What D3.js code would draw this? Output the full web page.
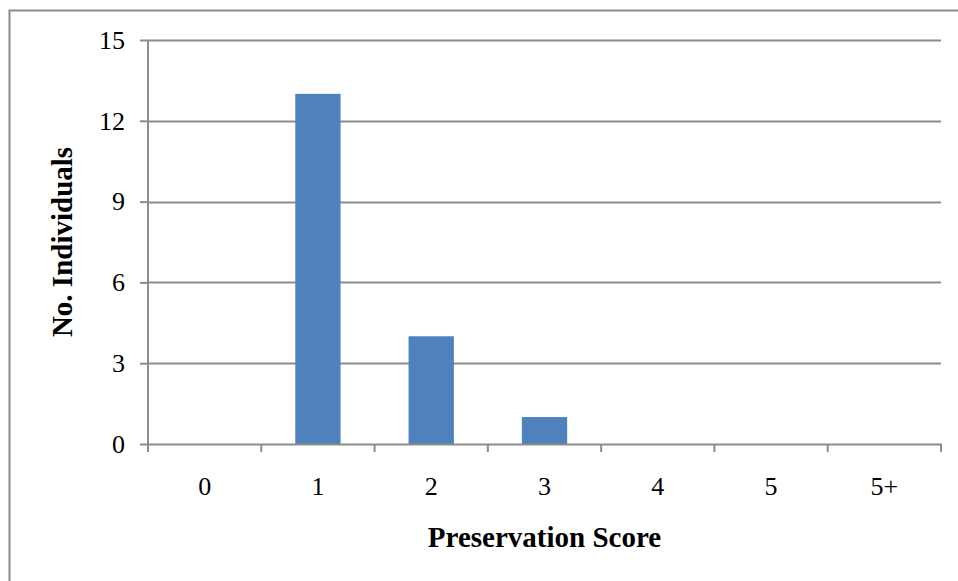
<!DOCTYPE html>
<html>
<head>
<meta charset="utf-8">
<script src="https://cdn.jsdelivr.net/npm/d3@7"></script>
<style>
  html, body { margin: 0; padding: 0; background: #fff; }
  svg { display: block; }
  text { font-family: "Liberation Serif", "Times New Roman", serif; fill: #000; }
</style>
</head>
<body>
<svg id="chart" width="958" height="581"></svg>
<script>
// Preservation score categories and counts of individuals
const categories = ["0", "1", "2", "3", "4", "5", "5+"];
const counts = [0, 13, 4, 1, 0, 0, 0];
const yTicks = [0, 3, 6, 9, 12, 15];

const svg = d3.select("#chart");
const plot = { left: 148, right: 941, top: 40, bottom: 444 };
const gridColor = "#8c8c8c";
const tickFont = 26;
const titleFont = 29;

// Outer chart frame (continues past right and bottom edges)
svg.append("rect")
  .attr("x", 9.5).attr("y", 10.5)
  .attr("width", 1000).attr("height", 700)
  .attr("fill", "none").attr("stroke", gridColor).attr("stroke-width", 2);

const xOuter = d3.scaleBand().domain(categories).range([plot.left, plot.right]);
const y = d3.scaleLinear().domain([0, 15]).range([plot.bottom, plot.top]);

// Horizontal gridlines
svg.append("g").selectAll("line").data(yTicks.filter(d => d > 0)).join("line")
  .attr("x1", plot.left).attr("x2", plot.right)
  .attr("y1", d => Math.round(y(d)) + 0.5).attr("y2", d => Math.round(y(d)) + 0.5)
  .attr("stroke", gridColor).attr("stroke-width", 2);

// Bars
svg.append("g").selectAll("rect").data(categories).join("rect")
  .attr("x", d => xOuter(d) + xOuter.bandwidth() * 0.3)
  .attr("width", xOuter.bandwidth() * 0.4)
  .attr("y", (d, i) => y(counts[i]))
  .attr("height", (d, i) => y(0) - y(counts[i]))
  .attr("fill", "#4f81bd");

// Y axis
const yAxis = svg.append("g")
  .attr("transform", `translate(${plot.left},0)`)
  .call(d3.axisLeft(y).tickValues(yTicks).tickSize(8).tickPadding(15).tickFormat(d3.format("d")));
yAxis.select(".domain").attr("stroke", gridColor).attr("stroke-width", 2)
  .attr("d", `M0,${plot.top}V${plot.bottom}`);
yAxis.selectAll(".tick line").attr("stroke", gridColor).attr("stroke-width", 2);
yAxis.selectAll(".tick text")
  .attr("font-size", tickFont).attr("font-family", "Liberation Serif").attr("fill", "#000");

// X axis with ticks at category boundaries
const xAxisG = svg.append("g").attr("transform", `translate(0,${plot.bottom})`);
xAxisG.append("line")
  .attr("x1", plot.left - 1).attr("x2", plot.right + 1)
  .attr("y1", 0.5).attr("y2", 0.5)
  .attr("stroke", gridColor).attr("stroke-width", 2);
const boundaries = categories.map(c => xOuter(c)).concat([plot.right]);
xAxisG.selectAll("line.tk").data(boundaries).join("line").attr("class", "tk")
  .attr("x1", d => d).attr("x2", d => d)
  .attr("y1", 0).attr("y2", 8)
  .attr("stroke", gridColor).attr("stroke-width", 2);
xAxisG.selectAll("text").data(categories).join("text")
  .attr("x", d => xOuter(d) + xOuter.bandwidth() / 2)
  .attr("y", 51)
  .attr("text-anchor", "middle")
  .attr("font-size", tickFont)
  .text(d => d);

// Axis titles
svg.append("text")
  .attr("x", (plot.left + plot.right) / 2).attr("y", 547)
  .attr("text-anchor", "middle").attr("font-size", titleFont).attr("font-weight", "bold")
  .text("Preservation Score");

svg.append("text")
  .attr("transform", `translate(72,${(plot.top + plot.bottom) / 2}) rotate(-90)`)
  .attr("text-anchor", "middle").attr("font-size", titleFont).attr("font-weight", "bold")
  .text("No. Individuals");
</script>
</body>
</html>
